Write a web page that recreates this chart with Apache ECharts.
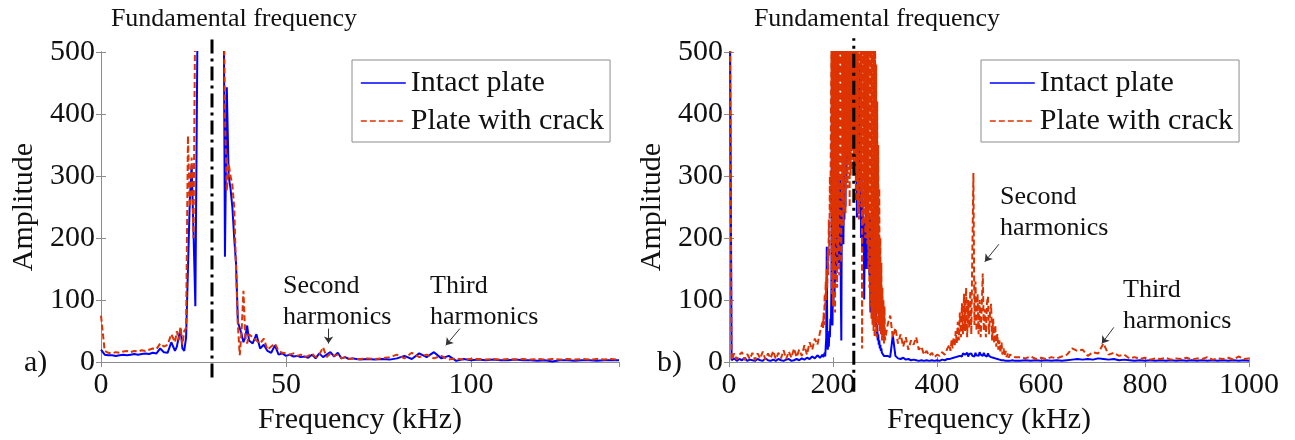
<!DOCTYPE html>
<html>
<head>
<meta charset="utf-8">
<title>Spectrum</title>
<script src="https://cdn.jsdelivr.net/npm/echarts@6/dist/echarts.min.js"></script>
<style>
  html, body { margin: 0; padding: 0; background: #fff; }
  #chart { width: 1295px; height: 440px; }
</style>
</head>
<body>
<div id="chart"></div>
<script>
// a) low band, frequency in kHz
var leftFreq = [0,1,2,3,4,5,6,7,8,9,10,11,12,13,14,15,16,17,18,19,20,
    20.5,21,21.5,22,22.5,23,23.5,24,24.5,25,25.5,26,26.5,27,27.5,28,28.5,29,29.5,30,
    30.5,31,31.5,32,32.5,33,33.5,34,34.5,35,35.5,36,36.5,37,37.5,38,38.5,39,39.5,40,
    41,42,43,44,45,46,47,48,49,50,51,52,53,54,55,56,57,58,59,60,
    61,62,63,64,65,66,67,68,69,70,
    72,74,76,78,80,82,84,86,88,90,92,94,96,98,100,102,104,106,108,110,
    112,114,116,118,120,122,124,126,128,130,132,134,136,138,140];
var leftIntact = [20,12,11,11,10,11,12,11,12,13,12,13,14,13,15,14,22,16,15,32,18,
    25,40,54,22,18,40,150,260,318,210, 90,480,900,1500,2000,2600,3000,3200,3300,3300,
    3200,3000,2600,2000,1200,800,170,443,300,280, 250,200,159,64,55,45,32,40,59,35,
    30,45,22,28,18,15,27,12,14,10,12,9,10,8,9,7,12,6,14,8,
    12,16,9,15,6,8,5,6,5,4,
    5,4,5,4,6,10,5,14,8,16,6,10,2,5,3,4,3,4,3,3,
    4,3,3,2,3,1,3,3,2,3,3,2,3,3,3];
var leftCrack = [75,18,15,14,16,15,17,18,16,18,17,19,18,20,22,21,30,25,28,45,32,
    50,35,56,28,50,55,365,250,330,200, 600,1100,1600,2200,2700,3100,3400,3500,3600,3600,
    3500,3300,2900,2300,1600,700,400,276,320,300, 286,250,150,60,11,50,115,40,30,45,
    40,35,30,38,20,25,30,18,15,14,12,14,10,12,8,10,14,8,12,24,
    8,14,10,12,6,8,5,6,5,5,
    6,5,6,8,12,6,15,8,12,6,10,4,6,4,5,5,4,5,4,5,
    4,5,4,5,4,5,4,5,4,5,4,5,4,5,4];

// b) wide band, frequency in kHz (finer steps around the main lobe and the 2nd harmonic)
var rightFreq = [0,5,10,15,20,25,30,35,40,45,50,55,60,65,70,75,80,85,90,95,
    100,105,110,115,120,125,130,135,140,145,150,155,160,165,170,175,180,
    181,182,183,184,185,186,187,188,189,
    190,191,192,193,194,195,196,197,198,199,200,201,202,203,204,205,206,207,208,209,
    210,211,212,213,214,215,216,217,218,219,220,221,222,223,224,225,226,227,228,229,
    230,231,232,233,234,235,236,237,238,239,240,241,242,243,244,245,246,247,248,249,
    250,251,252,253,254,255,256,257,258,259,260,261,262,263,264,265,266,267,268,269,
    270,271,272,273,274,275,276,277,278,279,280,281,282,283,284,285,286,287,288,289,
    290,291,292,293,294,295,296,297,298,299,300,
    305,310,315,320,325,330,335,340,345,350,355,360,365,370,375,380,385,390,395,400,
    405,410,415,420,
    422,424,426,428,430,432,434,436,438,440,442,444,446,448,450,452,454,456,458,460,
    462,464,466,468,470,472,474,476,478,480,482,484,486,488,490,492,494,496,498,500,
    502,504,506,508,510,512,514,516,518,520,522,524,526,528,530,532,534,536,538,540,
    545,550,
    560,570,580,590,600,610,620,630,640,650,660,670,680,690,700,710,720,730,740,750,
    760,770,780,790,800,810,820,830,840,850,860,870,880,890,900,910,920,930,940,950,
    960,970,980,990,1000];
var rightIntact = [900,3,6,2,5,3,7,2,4,3,2,5,3,2,6,3,2,4,2,5,
    3,2,4,5,2,3,5,3,6,4,7,5,9,6,11,7,12,
    8,10,7,15,9,12,40,186,30,
    20,35,25,50,40,70,60,120,445,59,140,90,200,110,250,130,220,150,300,180,
    270,160,240,200,300,120,35,270,210,313,190,280,230,380,250,468,300,400,350,520,
    330,600,400,700,380,800,450,900,420,750,500,650,410,700,300,405,233,380,300,450,
    280,480,250,350,200,300,180,250,207,230,101,207,150,250,180,220,150,250,170,233,
    140,200,80,233,120,238,100,180,90,150,70,110,60,80,45,60,35,45,28,35,
    22,28,18,22,15,18,12,15,10,12,9,
    10,8,43,10,6,5,7,4,5,3,4,3,2,3,2,3,2,3,2,3,
    2,4,3,5,
    6,5,8,6,9,7,10,8,11,9,12,10,13,9,14,11,12,10,15,9,
    13,11,14,10,12,9,15,11,13,10,16,12,14,10,15,11,13,9,14,10,
    12,8,10,7,8,6,6,5,5,4,4,3,4,3,3,2,3,2,3,2,
    3,2,
    2,3,2,3,2,3,2,3,2,3,4,5,4,5,4,6,5,4,5,3,
    4,3,2,3,2,3,2,3,2,3,2,3,2,3,2,3,2,3,2,3,
    2,3,2,3,2];
var rightCrack = [900,3,14,4,12,16,3,13,5,15,3,14,6,17,4,14,6,18,5,15,
    6,19,5,17,7,22,8,20,10,27,12,32,20,38,28,48,65,
    55,80,60,110,90,130,100,150,120,
    180,140,230,170,300,240,380,520,110,700,90,850,150,620,80,900,200,750,120,950,
    180,680,140,800,240,900,160,700,260,850,220,600,300,950,240,720,330,880,280,640,
    320,900,250,760,300,980,310,700,350,860,320,620,340,900,260,750,300,680,240,920,
    230,700,280,850,250,600,22,640,220,900,250,760,200,880,210,700,190,950,150,720,
    120,860,90,640,70,900,60,780,50,700,40,560,60,480,40,420,80,350,60,280,
    50,200,45,160,35,120,40,100,30,90,35,
    60,75,40,55,30,45,25,40,20,35,28,40,20,25,12,18,10,15,8,12,
    10,16,12,22,
    20,28,18,35,22,40,25,50,30,65,35,80,40,95,45,110,50,120,40,100,
    55,115,45,180,305,60,130,50,110,45,100,40,90,143,50,85,40,95,106,45,
    80,94,35,70,30,60,25,45,20,35,15,32,12,22,10,18,8,14,7,12,
    10,8,
    8,6,9,5,7,5,8,6,9,12,22,18,20,10,16,14,30,12,15,10,
    12,6,8,5,7,4,6,5,7,4,6,5,7,4,6,5,8,4,6,5,
    7,4,9,5,6];

// excitation frequency marker, and the annotation arrows [from, to]
var fundLeft = 30, fundRight = 240;
var arrowsLeft = [[[61.5, 54], [61.5, 30]], [[97, 54], [93.2, 27]]];
var arrowsRight = [[[519, 190], [492, 162]], [[740, 56], [717, 30]]];

var SERIF = '"Liberation Serif", "Times New Roman", serif';
var BLUE = '#0000ff', RED = '#dd3300', BOX = '#8c8c8c';

function pairs(xs, ys) {
    var out = [];
    for (var i = 0; i < xs.length; i++) out.push([xs[i], ys[i]]);
    return out;
}

function bottomAxis(grid, max, interval) {
    return {
        type: 'value', gridIndex: grid, position: 'bottom', min: 0, max: max, interval: interval,
        name: 'Frequency (kHz)', nameLocation: 'middle', nameGap: 36,
        nameTextStyle: { fontFamily: SERIF, fontSize: 30, color: '#111' },
        axisLine: { show: true, lineStyle: { color: BOX, width: 1 } },
        axisTick: { show: true, inside: true, length: 5, lineStyle: { color: BOX } },
        axisLabel: {
            fontFamily: SERIF, fontSize: 30, color: '#111', margin: 8,
            showMaxLabel: max % interval === 0,
            formatter: function (v) { return String(v); }
        },
        splitLine: { show: false }
    };
}
function topAxis(grid, max, interval) {
    return {
        type: 'value', gridIndex: grid, position: 'top', min: 0, max: max, interval: interval,
        axisLine: { show: true, lineStyle: { color: BOX, width: 1 } },
        axisTick: { show: true, inside: true, length: 5, lineStyle: { color: BOX } },
        axisLabel: { show: false }, splitLine: { show: false }
    };
}
function leftAxis(grid) {
    return {
        type: 'value', gridIndex: grid, position: 'left', min: 0, max: 500, interval: 100,
        name: 'Amplitude', nameLocation: 'middle', nameGap: 62,
        nameTextStyle: { fontFamily: SERIF, fontSize: 30, color: '#111' },
        axisLine: { show: true, lineStyle: { color: BOX, width: 1 } },
        axisTick: { show: true, inside: true, length: 5, lineStyle: { color: BOX } },
        axisLabel: { fontFamily: SERIF, fontSize: 30, color: '#111', margin: 6 },
        splitLine: { show: false }
    };
}
function rightAxis(grid) {
    return {
        type: 'value', gridIndex: grid, position: 'right', min: 0, max: 500, interval: 100,
        axisLine: { show: true, lineStyle: { color: BOX, width: 1 } },
        axisTick: { show: true, inside: true, length: 5, lineStyle: { color: BOX } },
        axisLabel: { show: false }, splitLine: { show: false }
    };
}

function spectrum(name, xs, ys, axis, color, dashed) {
    return {
        name: name, type: 'line', xAxisIndex: axis, yAxisIndex: axis,
        data: pairs(xs, ys), symbol: 'none', showSymbol: false, clip: true,
        lineStyle: { color: color, width: 2, type: dashed ? [6, 3] : 'solid' },
        itemStyle: { color: color }, z: dashed ? 3 : 2, animation: false
    };
}

function fundamental(axis, f, lo, hi, arrows) {
    var md = [];
    for (var i = 0; i < arrows.length; i++) {
        md.push([{ coord: arrows[i][0] }, { coord: arrows[i][1] }]);
    }
    return {
        name: 'fund' + axis, type: 'line', xAxisIndex: axis, yAxisIndex: axis,
        data: [[f, lo], [f, hi]], symbol: 'none', clip: false, z: 5, animation: false, silent: true,
        lineStyle: { color: '#000', width: 3, type: [14, 5, 3, 5] },
        markLine: {
            silent: true, animation: false, symbol: ['none', 'arrow'], symbolSize: 7,
            label: { show: false },
            lineStyle: { color: '#333', width: 1, type: 'solid' },
            data: md
        }
    };
}

function legendAt(left) {
    return {
        left: left, top: 60, orient: 'vertical',
        data: ['Intact plate', 'Plate with crack'],
        itemWidth: 45, itemHeight: 14, itemGap: 8,
        padding: [8, 6, 6, 8],
        itemStyle: { opacity: 0 },
        lineStyle: { width: 1.6 },
        backgroundColor: '#fff', borderColor: BOX, borderWidth: 1,
        textStyle: { fontFamily: SERIF, fontSize: 30, color: '#111' },
        selectedMode: false
    };
}

function label(x, y, text, size, align) {
    return {
        type: 'text', x: x, y: y, silent: true,
        style: {
            text: text, fill: '#111', font: size + 'px ' + SERIF,
            textAlign: align || 'left', textVerticalAlign: 'middle', lineHeight: 31
        }
    };
}

var myChart = echarts.init(document.getElementById('chart'));
var option = {
    animation: false,
    backgroundColor: '#fff',
    grid: [
        { left: 101, top: 52, width: 518, height: 315 },
        { left: 729, top: 52, width: 520, height: 315 }
    ],
    xAxis: [bottomAxis(0, 140, 50), bottomAxis(1, 1000, 200), topAxis(0, 140, 50), topAxis(1, 1000, 200)],
    yAxis: [leftAxis(0), leftAxis(1), rightAxis(0), rightAxis(1)],
    legend: [legendAt(352), legendAt(981)],
    series: [
        spectrum('Intact plate', leftFreq, leftIntact, 0, BLUE, false),
        spectrum('Plate with crack', leftFreq, leftCrack, 0, RED, true),
        spectrum('Intact plate', rightFreq, rightIntact, 1, BLUE, false),
        spectrum('Plate with crack', rightFreq, rightCrack, 1, RED, true),
        fundamental(0, fundLeft, -25, 522, arrowsLeft),
        fundamental(1, fundRight, -48, 522, arrowsRight)
    ],
    graphic: [
        label(234, 19, 'Fundamental frequency', 26, 'center'),
        label(877, 19, 'Fundamental frequency', 26, 'center'),
        label(24, 363, 'a)', 30),
        label(657, 363, 'b)', 30),
        label(283, 302, 'Second\nharmonics', 26),
        label(430, 302, 'Third\nharmonics', 26),
        label(1000, 213, 'Second\nharmonics', 26),
        label(1123, 306, 'Third\nharmonics', 26)
    ]
};
myChart.setOption(option);
</script>
</body>
</html>
